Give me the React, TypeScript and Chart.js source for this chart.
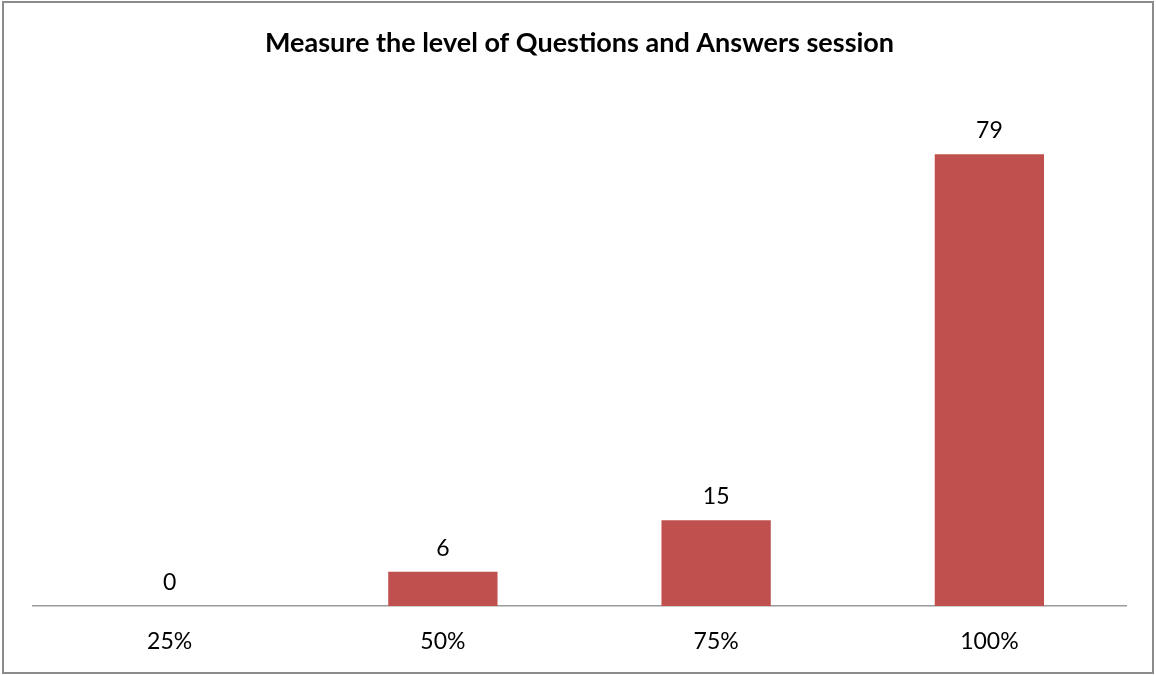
import React, { useEffect, useRef } from "react";
import { Chart, registerables } from "chart.js";

Chart.register(...registerables);

const categories = ["25%", "50%", "75%", "100%"];
const values = [0, 6, 15, 79];
const chartTitle = "Measure the level of Questions and Answers session";

const FONT = "Lato, 'Open Sans', sans-serif";

const valueLabels = {
  id: "valueLabels",
  afterDatasetsDraw(chart: any) {
    const ctx = chart.ctx;
    const meta = chart.getDatasetMeta(0);
    ctx.save();
    ctx.font = `23px ${FONT}`;
    ctx.fillStyle = "#000";
    ctx.textAlign = "center";
    ctx.textBaseline = "bottom";
    meta.data.forEach((bar: any, i: number) => {
      ctx.fillText(String(values[i]), bar.x, bar.y - 12);
    });
    ctx.restore();
  },
};

export default function App() {
  const ref = useRef<HTMLCanvasElement | null>(null);
  useEffect(() => {
    if (!ref.current) return;
    const chart = new Chart(ref.current, {
      type: "bar",
      data: {
        labels: categories,
        datasets: [
          {
            data: values,
            backgroundColor: "#C0504D",
            borderWidth: 0,
            categoryPercentage: 1,
            barPercentage: 0.4,
          },
        ],
      },
      options: {
        animation: false,
        responsive: false,
        maintainAspectRatio: false,
        layout: { padding: { left: 33, right: 30, top: 0, bottom: 0 } },
        plugins: {
          legend: { display: false },
          tooltip: { enabled: false },
          title: {
            display: true,
            text: chartTitle,
            color: "#000",
            font: { family: FONT, size: 27, weight: "bold", lineHeight: 1.2 },
            padding: { top: 27, bottom: 32 },
          },
        },
        scales: {
          x: {
            grid: { display: false },
            border: { display: true, color: "#999", width: 1.5 },
            ticks: { color: "#000", font: { family: FONT, size: 23 }, padding: 14 },
            afterFit(scale: any) {
              scale.height = 69;
            },
          },
          y: { display: false, min: 0, max: 90 },
        },
      },
      plugins: [valueLabels],
    });
    return () => chart.destroy();
  }, []);
  return (
    <div style={{ position: "absolute", left: 0, top: 0, width: 1156, height: 675, background: "#fff" }}>
      <canvas ref={ref} width={1156} height={675} style={{ position: "absolute", left: 0, top: 0 }} />
      <div
        style={{
          position: "absolute",
          left: 2,
          top: 1,
          width: 1152,
          height: 673,
          boxSizing: "border-box",
          border: "2px solid #8c8c8c",
          pointerEvents: "none",
        }}
      />
    </div>
  );
}
